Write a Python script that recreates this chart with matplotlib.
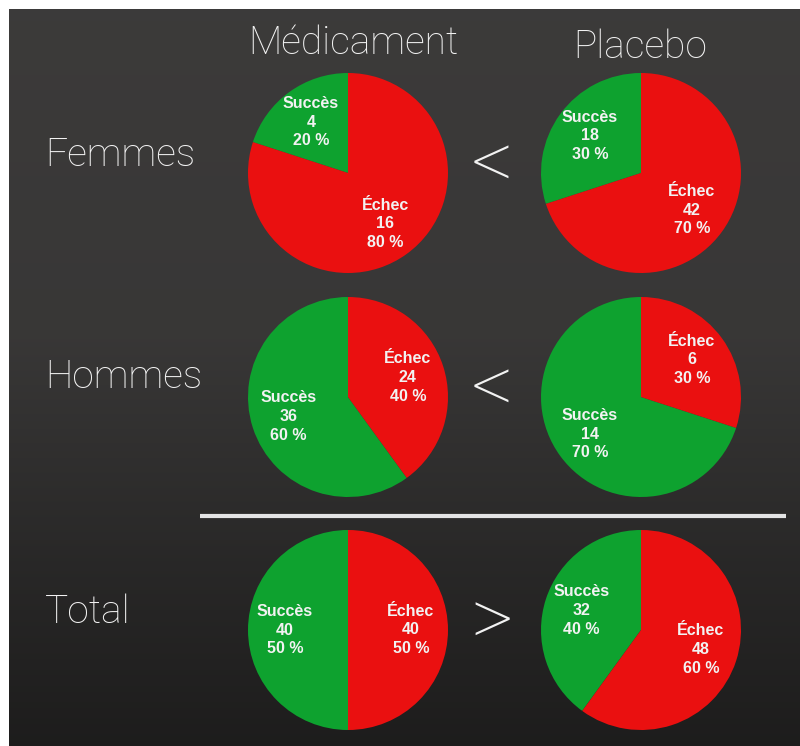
#Importamos librerias
import numpy as np
import matplotlib.pyplot as plt

# Données : succès / échec par groupe et par traitement
groupes = ['Femmes', 'Hommes', 'Total']
traitements = ['Médicament', 'Placebo']
succes_medicament = [4, 36, 40]
echec_medicament = [16, 24, 40]
succes_placebo = [18, 14, 32]
echec_placebo = [42, 6, 48]
comparaisons = ['<', '<', '>']

vert = '#0ea22f'
rouge = '#ea1010'
craie = '#f2f2f2'

W, H = 800, 746
fig = plt.figure(figsize=(W / 100, H / 100), dpi=100, facecolor='white')
ax = fig.add_axes([0, 0, 1, 1])
ax.set_xlim(0, W)
ax.set_ylim(0, H)
ax.axis('off')

def py(y):
    # coordonnées pixel (origine en haut) -> coordonnées du graphe
    return H - y

# Tableau noir : dégradé vertical du gris foncé au presque noir
lignes = np.linspace(0, 1, 300)
teinte = np.interp(lignes, [0, 0.45, 0.75, 1], [0.235, 0.22, 0.16, 0.115])
fond = np.dstack([teinte, teinte * 0.98, teinte * 0.97])
fond = np.repeat(fond.reshape(300, 1, 3), 2, axis=1)
ax.imshow(fond, extent=[9, W, py(H), py(9)], aspect='auto', zorder=0)

# Titres des colonnes et des lignes
col_x = [348, 641]
ligne_y = [173, 397, 630]
rayon = 100
police_craie = dict(fontsize=28, family='Roboto', weight='light', color=craie)

ax.text(353, py(43), traitements[0], ha='center', va='center', **police_craie)
ax.text(640, py(47), traitements[1], ha='center', va='center', **police_craie)
for nom, y in zip(groupes, [155, 377, 612]):
    ax.text(45, py(y), nom, ha='left', va='center', **police_craie)

# Camemberts
donnees = [(succes_medicament, echec_medicament), (succes_placebo, echec_placebo)]
for j, (succ, ech) in enumerate(donnees):
    for i in range(len(groupes)):
        valeurs = [succ[i], ech[i]]
        total = sum(valeurs)
        etiquettes = ['%s\n%d\n%d %%' % (n, v, round(100 * v / total))
                      for n, v in zip(['Succès', 'Échec'], valeurs)]
        wedges, textes = ax.pie(valeurs, labels=etiquettes, colors=[vert, rouge],
                                startangle=90, counterclock=True,
                                center=(col_x[j], py(ligne_y[i])), radius=rayon,
                                labeldistance=0.63, frame=True,
                                textprops=dict(color='#f2f2f2', fontsize=11.5,
                                               weight='bold', family='Liberation Sans'))
        for t in textes:
            t.set_ha('center')
            t.set_va('center')
            t.set_multialignment('center')
            t.set_linespacing(1.3)

# Signes de comparaison entre les deux colonnes
for signe, y in zip(comparaisons, [166, 390, 623]):
    ax.text(492, py(y), signe, fontsize=60, family='Roboto', weight='light',
            color=craie, ha='center', va='center')

# Trait de séparation avant le total
ax.plot([200, 786], [py(516), py(516)], color='#e4e4e4', lw=3, solid_capstyle='butt')

ax.set_xlim(0, W)
ax.set_ylim(0, H)
ax.axis('off')
fig.savefig('out.png', dpi=100, facecolor='white')
